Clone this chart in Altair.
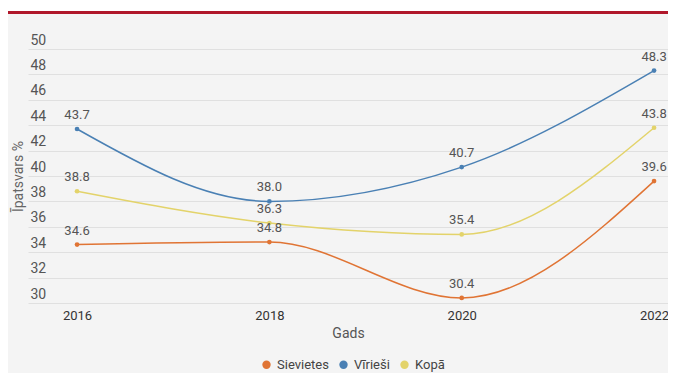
import altair as alt
import pandas as pd

years = [2016, 2018, 2020, 2022]
sievietes = [34.6, 34.8, 30.4, 39.6]
virriesi = [43.7, 38.0, 40.7, 48.3]
kopa = [38.8, 36.3, 35.4, 43.8]
series_names = ["Sievietes", "Vīrieši", "Kopā"]
series_colors = ["#E07434", "#4A80B4", "#E3D36A"]
y_ticks = [30, 32, 34, 36, 38, 40, 42, 44, 46, 48, 50]
x_ticks = [2016, 2018, 2020, 2022]

rows = []
for name, vals in zip(series_names, [sievietes, virriesi, kopa]):
    for yr, v in zip(years, vals):
        rows.append({"Gads": yr, "Sērija": name, "Vērtība": v})
df = pd.DataFrame(rows)

W, H = 640, 254
FONT = "Roboto"

xs = alt.Scale(domain=[2015.49, 2022.145], nice=False, zero=False)
ys = alt.Scale(domain=[30, 50], nice=False, zero=False)
col = alt.Color("Sērija:N", scale=alt.Scale(domain=series_names, range=series_colors),
                sort=series_names,
                legend=alt.Legend(title=None, orient="none", direction="horizontal",
                                  legendX=232, legendY=309, symbolType="circle",
                                  symbolSize=70, labelFontSize=13, labelColor="#444",
                                  labelFont=FONT, columnPadding=8, symbolStrokeWidth=0))

white = alt.Chart(pd.DataFrame({"a": [0]})).mark_rect(color="white").encode(
    x=alt.value(-20), x2=alt.value(W), y=alt.value(-41), y2=alt.value(-37))
red = alt.Chart(pd.DataFrame({"a": [0]})).mark_rule(color="#B0172A", strokeWidth=3).encode(
    x=alt.value(-20), x2=alt.value(W), y=alt.value(-36.5))

base = alt.Chart(df).encode(
    x=alt.X("Gads:Q", scale=xs,
            axis=alt.Axis(values=x_ticks, format="d", grid=False, domain=False, ticks=False,
                          labelFontSize=13, labelColor="#333", labelFont=FONT,
                          labelPadding=6, title="Gads", titleFontSize=14, titleFontWeight="normal",
                          titleColor="#555", titleFont=FONT, titlePadding=4)),
    y=alt.Y("Vērtība:Q", scale=ys,
            axis=alt.Axis(values=y_ticks, grid=True, gridColor="#e0e0e0", domain=False, ticks=False,
                          tickSize=0, labelAlign="left", labelBaseline="bottom", labelPadding=-2,
                          labelOffset=-2, labelFontSize=14, labelColor="#555", labelFont=FONT,
                          title="Īpatsvars %", titleFontSize=14, titleFontWeight="normal",
                          titleColor="#666", titleFont=FONT, titleX=-3, titleY=H / 2,
                          titleAngle=-90, titleAlign="center", titleBaseline="bottom")),
    color=col,
)

lines = base.mark_line(interpolate="monotone", strokeWidth=1.5)
pts = base.mark_circle(size=22, opacity=1)
labels = base.mark_text(baseline="bottom", dy=-7, fontSize=13, color="#555", font=FONT).encode(
    text=alt.Text("Vērtība:Q", format=".1f"), color=alt.value("#555"))

chart = alt.layer(white, red, lines, pts, labels).properties(
    width=W, height=H,
    padding={"left": 20, "top": 41, "right": 0, "bottom": 70},
    autosize=alt.AutoSizeParams(type="none"),
    background="#f4f4f4",
).configure_view(stroke=None)

chart.save("out.html", embed_options={"renderer": "svg", "actions": False})
